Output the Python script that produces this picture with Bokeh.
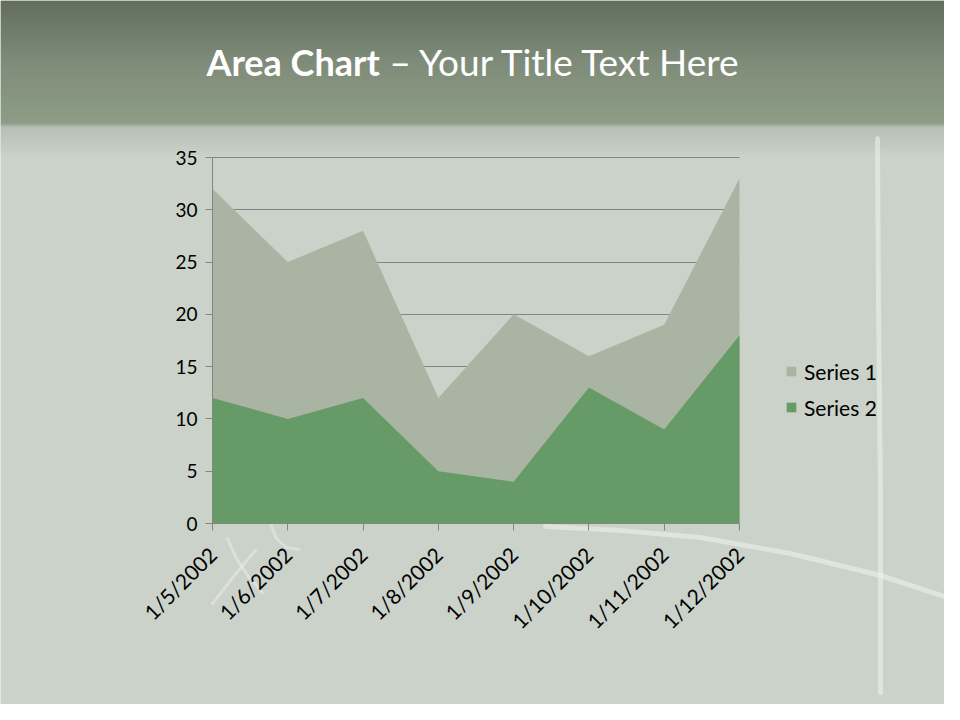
import numpy as np
from math import pi
from bokeh.plotting import figure
from bokeh.models import (Range1d, FixedTicker, Legend, LegendItem, LinearAxis, Grid)
from bokeh.core.properties import value
from bokeh.embed import file_html
from bokeh.resources import INLINE

# ---- data ----
dates = ["1/5/2002", "1/6/2002", "1/7/2002", "1/8/2002",
         "1/9/2002", "1/10/2002", "1/11/2002", "1/12/2002"]
series1 = [32, 25, 28, 12, 20, 16, 19, 33]
series2 = [12, 10, 12, 5, 4, 13, 9, 18]
y_ticks = [0, 5, 10, 15, 20, 25, 30, 35]
y_max = 35

FONT = "Lato"
W, H = 944, 704
# plot-area placement (pixels from the top-left of the figure)
PA_LEFT, PA_RIGHT, PA_TOP, PA_BOTTOM = 212, 739, 157, 523

n = len(dates)
xs = list(range(n))
ppx = (PA_RIGHT - PA_LEFT) / (n - 1)
x_start = -PA_LEFT / ppx
x_end = (n - 1) + (W - PA_RIGHT) / ppx
ppy = (PA_BOTTOM - PA_TOP) / y_max
y_start = -(H - PA_BOTTOM) / ppy
y_end = y_max + PA_TOP / ppy

p = figure(width=W, height=H, x_range=Range1d(x_start, x_end), y_range=Range1d(y_start, y_end),
           x_axis_type=None, y_axis_type=None, output_backend="svg",
           toolbar_location=None, min_border=0)
p.outline_line_color = None
p.background_fill_color = "#cbd2c9"
p.border_fill_color = "#cbd2c9"
# pixel coordinate ranges for the slide decoration
p.extra_x_ranges["px"] = Range1d(0, W)
p.extra_y_ranges["px"] = Range1d(0, H)


def py(y):
    return H - y


# ---- slide banner (vertical gradient) ----
def hex2rgb(h):
    h = h.lstrip("#")
    return np.array([int(h[i:i + 2], 16) for i in (0, 2, 4)], dtype=float)


BANNER_BOTTOM = 156
stops = [(0, "#636e5d"), (60, "#7e8b78"), (123, "#8d9d87"),
         (125, "#a9b4a6"), (127, "#b6c0b4"), (156, "#cbd2c9")]
img = np.zeros((BANNER_BOTTOM, 2), dtype=np.uint32)
view = img.view(dtype=np.uint8).reshape((BANNER_BOTTOM, 2, 4))
for r in range(BANNER_BOTTOM):
    yy = BANNER_BOTTOM - r - 0.5
    c = hex2rgb(stops[-1][1])
    for k in range(len(stops) - 1):
        y0, c0 = stops[k]
        y1, c1 = stops[k + 1]
        if y0 <= yy <= y1:
            t = (yy - y0) / (y1 - y0)
            c = hex2rgb(c0) * (1 - t) + hex2rgb(c1) * t
            break
    view[r, :, 0] = int(round(c[0]))
    view[r, :, 1] = int(round(c[1]))
    view[r, :, 2] = int(round(c[2]))
    view[r, :, 3] = 255
p.image_rgba(image=[img], x=0, y=py(BANNER_BOTTOM), dw=W, dh=BANNER_BOTTOM,
             x_range_name="px", y_range_name="px")

# chalk marks on the board
chalk = dict(line_color="#f4f6f2", line_alpha=0.5, line_width=5, line_cap="round",
             x_range_name="px", y_range_name="px")
p.line(x=[877, 878, 880, 880], y=[py(138), py(300), py(500), py(692)], **chalk)
p.line(x=[545, 620, 700, 790, 880, 950], y=[py(v) for v in [526, 530, 537, 553, 575, 598]], **chalk)
thin = dict(line_color="#f4f6f2", line_alpha=0.4, line_width=3, line_cap="round",
            x_range_name="px", y_range_name="px")
p.line(x=[227, 236, 248, 262], y=[py(v) for v in [538, 558, 576, 592]], **thin)
p.line(x=[255, 238, 212], y=[py(v) for v in [550, 570, 603]], **thin)
p.line(x=[270, 276, 286, 298], y=[py(v) for v in [523, 538, 547, 549]], **thin)

# title
p.text(x=[206], y=[py(61)], text=["Area Chart"], text_color="white",
       text_font=value(FONT), text_font_style="bold", text_font_size="36px",
       text_baseline="middle", text_align="left", x_range_name="px", y_range_name="px")
p.text(x=[389], y=[py(61)], text=["\u2013 Your Title Text Here"], text_color="white",
       text_font=value(FONT), text_font_size="37px",
       text_baseline="middle", text_align="left", x_range_name="px", y_range_name="px")

# ---- chart ----
grid = Grid(dimension=1, ticker=FixedTicker(ticks=y_ticks), bounds=(0, y_max),
            cross_bounds=(0, n - 1), grid_line_color="#858585", grid_line_width=1)
p.add_layout(grid, "center")

r1 = p.varea(x=xs, y1=0, y2=series1, fill_color="#a9b5a2")
r2 = p.varea(x=xs, y1=0, y2=series2, fill_color="#669a66")

yaxis = LinearAxis(ticker=FixedTicker(ticks=y_ticks), fixed_location=0, bounds=(0, y_max))
xaxis = LinearAxis(ticker=FixedTicker(ticks=xs), fixed_location=0, bounds=(0, n - 1),
                   major_label_overrides={i: d for i, d in zip(xs, dates)},
                   major_label_orientation=pi / 4)
for ax in (xaxis, yaxis):
    ax.axis_line_color = "#858585"
    ax.major_tick_line_color = "#858585"
    ax.major_tick_in = 0
    ax.major_tick_out = 7
    ax.minor_tick_line_color = None
    ax.major_label_text_font = FONT
    ax.major_label_text_color = "black"
yaxis.major_label_text_font_size = "19px"
xaxis.major_label_text_font_size = "21px"
yaxis.major_label_standoff = 8
xaxis.major_label_standoff = 20
p.add_layout(yaxis, "left")
p.add_layout(xaxis, "below")

legend = Legend(items=[LegendItem(label="Series 1", renderers=[r1]),
                       LegendItem(label="Series 2", renderers=[r2])],
                location=(785, H - 389 - 31), orientation="vertical",
                glyph_width=12, glyph_height=12, label_height=26, label_standoff=7,
                spacing=10, padding=0, margin=0, border_line_color=None,
                background_fill_alpha=0, label_text_font=FONT,
                label_text_font_size="21px", label_text_color="black")
p.add_layout(legend, "center")

open("out.html", "w").write(file_html(p, INLINE))
